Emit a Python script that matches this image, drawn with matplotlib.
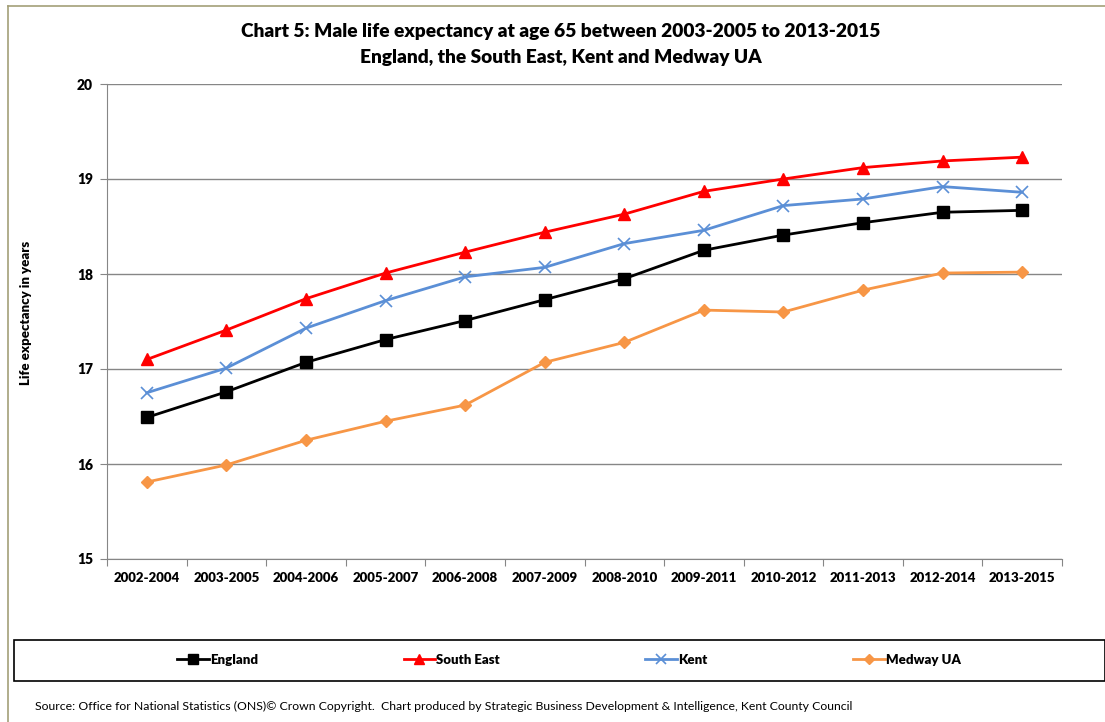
import numpy as np
import matplotlib
matplotlib.use("Agg")
import matplotlib.pyplot as plt
from matplotlib.patches import Rectangle
from matplotlib.lines import Line2D

plt.rcParams['font.family'] = ['Lato', 'DejaVu Sans']

periods = ["2002-2004", "2003-2005", "2004-2006", "2005-2007", "2006-2008", "2007-2009",
           "2008-2010", "2009-2011", "2010-2012", "2011-2013", "2012-2014", "2013-2015"]
england = [16.49, 16.76, 17.07, 17.31, 17.51, 17.73, 17.95, 18.25, 18.41, 18.54, 18.65, 18.67]
south_east = [17.10, 17.41, 17.74, 18.01, 18.23, 18.44, 18.63, 18.87, 19.00, 19.12, 19.19, 19.23]
kent = [16.75, 17.01, 17.43, 17.72, 17.97, 18.07, 18.32, 18.46, 18.72, 18.79, 18.92, 18.86]
medway = [15.81, 15.99, 16.25, 16.45, 16.62, 17.07, 17.28, 17.62, 17.60, 17.83, 18.01, 18.02]

W, H = 1105, 722
fig = plt.figure(figsize=(W / 100, H / 100), dpi=100)

# outer chart border (only left and top edges visible)
fig.add_artist(Line2D([8 / W, 8 / W], [0, 1 - 6 / H], color='#a39f78', lw=1.2))
fig.add_artist(Line2D([8 / W, 1], [1 - 6 / H, 1 - 6 / H], color='#a39f78', lw=1.2))

ax = fig.add_axes([107 / W, 1 - 559 / H, (1062 - 107) / W, (559 - 84) / H])
x = np.arange(len(periods))
grid_c = '#868686'

ax.plot(x, england, color='black', lw=2, marker='s', ms=8.5, label='England')
ax.plot(x, south_east, color='#ff0000', lw=2, marker='^', ms=8.5, label='South East')
ax.plot(x, kent, color='#5b8fd6', lw=2, marker='x', ms=8, mew=1.2, label='Kent')
ax.plot(x, medway, color='#f79646', lw=2, marker='D', ms=6, label='Medway UA')

ax.set_xlim(-0.5, len(periods) - 0.5)
ax.set_ylim(15, 20)
ax.set_yticks(range(15, 21))
ax.set_yticklabels([str(v) for v in range(15, 21)], fontweight='heavy', fontsize=10)
ax.yaxis.grid(True, color=grid_c, lw=1)
ax.set_axisbelow(True)

ax.set_xticks(np.arange(-0.5, len(periods), 1.0))
ax.set_xticklabels([])
ax.set_xticks(x, minor=True)
ax.set_xticklabels(periods, minor=True, fontweight='heavy', fontsize=9.5)
ax.tick_params(axis='x', which='major', length=5, color=grid_c)
ax.tick_params(axis='x', which='minor', length=0, pad=9)
ax.tick_params(axis='y', length=5, color=grid_c, pad=5)

for s in ['top', 'right']:
    ax.spines[s].set_visible(False)
for s in ['left', 'bottom']:
    ax.spines[s].set_color(grid_c)

ax.set_ylabel('Life expectancy in years', fontweight='heavy', fontsize=9.5)
ax.yaxis.set_label_coords(-0.0785, 0.518)

fig.text(561 / W, 1 - 32 / H, 'Chart 5: Male life expectancy at age 65 between 2003-2005 to 2013-2015',
         ha='center', va='center', fontweight='heavy', fontsize=13.8)
fig.text(561 / W, 1 - 58 / H, 'England, the South East, Kent and Medway UA',
         ha='center', va='center', fontweight='heavy', fontsize=13.8)

# legend box
fig.add_artist(Rectangle((14 / W, 1 - 681 / H), (W - 14) / W, 41 / H, transform=fig.transFigure,
                         fill=False, edgecolor='black', lw=1.2))
handles, labels = ax.get_legend_handles_labels()
fig.legend(handles, labels, loc='center', bbox_to_anchor=(569 / W, 1 - 660 / H), ncol=4,
           frameon=False, prop={'weight': 'heavy', 'size': 9.5}, handlelength=2.4,
           handletextpad=0.1, columnspacing=11.0, markerscale=0.85)

fig.text(35 / W, 1 - 706 / H,
         'Source: Office for National Statistics (ONS)\u00a9 Crown Copyright.  Chart produced by Strategic Business Development & Intelligence, Kent County Council',
         ha='left', va='center', fontsize=8.8)

fig.savefig('out.png', dpi=100)
